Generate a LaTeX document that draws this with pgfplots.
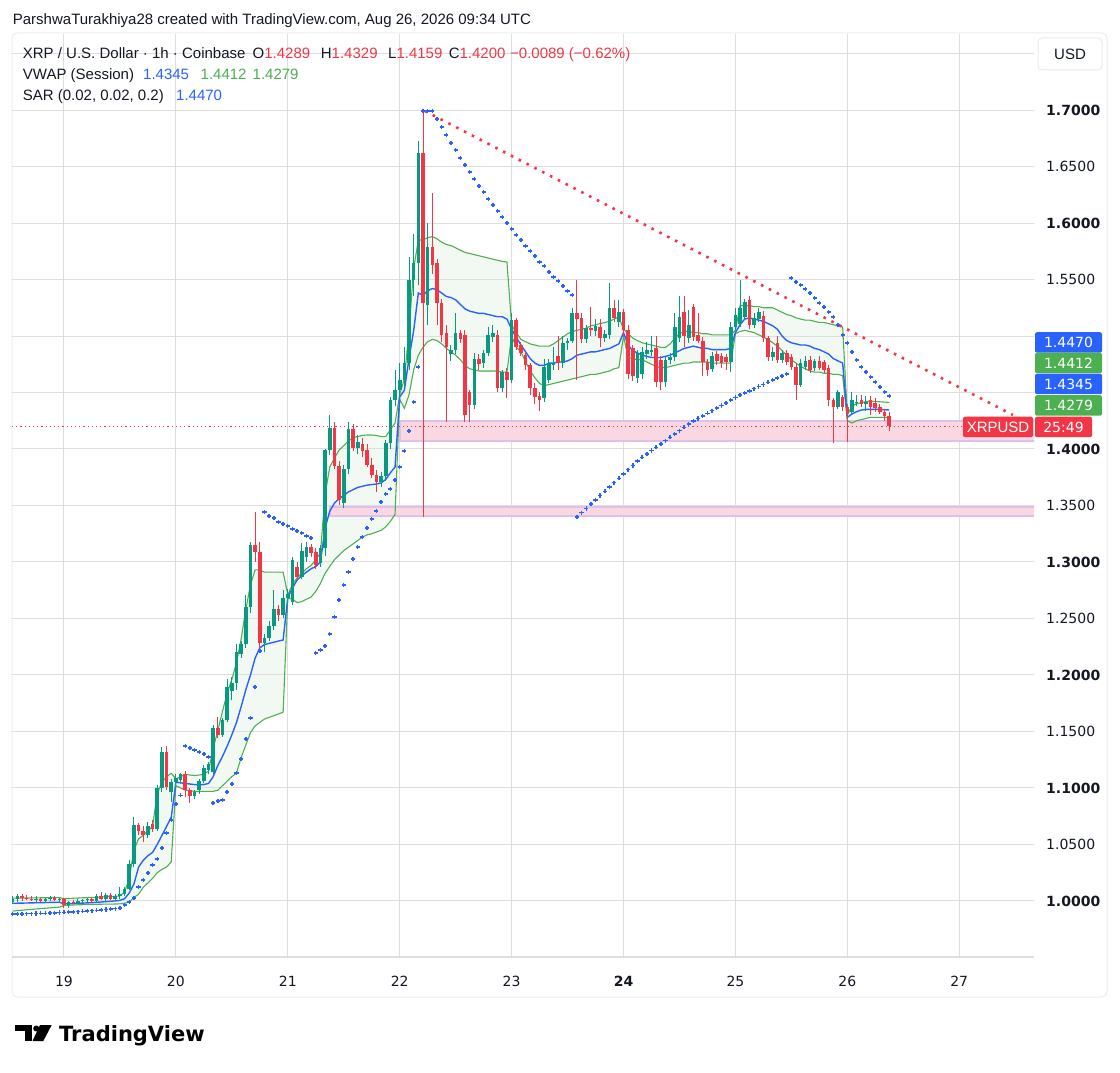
\documentclass[border=0pt]{standalone}
\usepackage{fontspec}
\setmainfont{Liberation Sans}
\newfontfamily\numfont{DejaVu Sans}
\usepackage{pgfplots}
\pgfplotsset{compat=1.18}
\usepackage{pgfplotstable}
\usepgfplotslibrary{fillbetween}
\definecolor{upc}{RGB}{8,153,129}
\definecolor{dnc}{RGB}{242,54,69}
\definecolor{tvblue}{RGB}{41,98,255}
\definecolor{bandg}{RGB}{76,175,80}
\definecolor{gridc}{RGB}{222,222,222}
\definecolor{txt}{RGB}{19,23,34}
\definecolor{zonefill}{RGB}{250,216,226}
\definecolor{zoneedge}{RGB}{222,192,234}

% rising candles (close >= open)
\pgfplotstableread{
t o hi lo c
-11 0.999 1.004 0.997 1.002
-10 1.002 1.006 0.999 1.004
-6 1.001 1.004 0.999 1.002
-4 1.000 1.003 0.998 1.002
-3 1.002 1.004 1.000 1.003
-1 1.001 1.003 0.999 1.002
1 0.996 1.000 0.994 0.999
3 0.998 1.002 0.997 1.000
4 1.000 1.002 0.998 1.001
5 1.001 1.003 0.999 1.002
7 1.000 1.006 0.999 1.004
9 1.002 1.007 1.000 1.005
11 1.002 1.006 1.001 1.004
12 1.004 1.012 1.002 1.006
13 1.006 1.012 1.004 1.011
14 1.011 1.036 1.010 1.033
15 1.033 1.074 1.030 1.067
18 1.058 1.070 1.056 1.066
20 1.064 1.103 1.062 1.100
21 1.100 1.136 1.096 1.132
23 1.096 1.108 1.088 1.105
24 1.105 1.112 1.100 1.109
25 1.107 1.113 1.104 1.112
28 1.093 1.098 1.090 1.096
29 1.098 1.108 1.095 1.106
30 1.106 1.120 1.104 1.118
31 1.116 1.123 1.112 1.121
32 1.114 1.156 1.112 1.153
34 1.147 1.162 1.145 1.160
35 1.160 1.196 1.158 1.189
36 1.186 1.198 1.178 1.193
37 1.193 1.227 1.187 1.220
38 1.219 1.230 1.215 1.227
39 1.227 1.271 1.224 1.260
40 1.260 1.318 1.255 1.315
43 1.228 1.236 1.220 1.233
44 1.233 1.248 1.230 1.243
45 1.243 1.275 1.240 1.258
47 1.253 1.275 1.250 1.268
48 1.268 1.276 1.262 1.272
49 1.265 1.304 1.262 1.302
51 1.287 1.317 1.285 1.310
52 1.304 1.318 1.300 1.313
55 1.299 1.315 1.296 1.312
56 1.312 1.400 1.305 1.399
57 1.399 1.430 1.395 1.419
60 1.352 1.386 1.348 1.382
61 1.382 1.424 1.378 1.418
63 1.401 1.412 1.396 1.406
68 1.371 1.380 1.366 1.376
69 1.376 1.408 1.372 1.405
70 1.405 1.446 1.400 1.443
71 1.443 1.470 1.438 1.452
72 1.452 1.476 1.445 1.461
73 1.461 1.490 1.455 1.476
74 1.476 1.570 1.470 1.550
75 1.550 1.590 1.535 1.565
76 1.565 1.673 1.545 1.662
78 1.527 1.600 1.510 1.579
83 1.484 1.492 1.478 1.488
84 1.488 1.520 1.484 1.503
88 1.439 1.485 1.435 1.480
90 1.476 1.488 1.472 1.485
91 1.485 1.508 1.482 1.501
92 1.499 1.510 1.495 1.503
94 1.454 1.470 1.450 1.468
96 1.461 1.520 1.458 1.514
103 1.445 1.480 1.442 1.473
104 1.461 1.480 1.458 1.476
105 1.474 1.490 1.470 1.476
107 1.476 1.500 1.472 1.494
108 1.494 1.498 1.488 1.496
109 1.496 1.525 1.494 1.520
112 1.497 1.510 1.494 1.507
114 1.504 1.515 1.500 1.509
116 1.498 1.505 1.495 1.502
117 1.501 1.547 1.497 1.525
119 1.512 1.532 1.508 1.521
123 1.463 1.488 1.458 1.485
124 1.466 1.490 1.462 1.486
125 1.484 1.495 1.480 1.488
126 1.486 1.500 1.482 1.488
129 1.459 1.482 1.455 1.479
130 1.479 1.485 1.475 1.481
131 1.481 1.520 1.478 1.508
132 1.498 1.535 1.495 1.517
134 1.498 1.523 1.494 1.510
139 1.471 1.486 1.468 1.482
143 1.477 1.512 1.468 1.508
144 1.508 1.525 1.505 1.519
145 1.511 1.550 1.508 1.525
146 1.517 1.533 1.514 1.530
148 1.510 1.520 1.507 1.516
149 1.515 1.525 1.512 1.521
152 1.481 1.490 1.478 1.486
154 1.479 1.488 1.476 1.485
158 1.457 1.480 1.455 1.476
159 1.473 1.482 1.470 1.478
161 1.472 1.480 1.469 1.478
166 1.437 1.452 1.435 1.450
169 1.433 1.450 1.431 1.443
170 1.441 1.448 1.438 1.442
172 1.440 1.447 1.434 1.442
}\upcandles

% falling candles (close < open)
\pgfplotstableread{
t o hi lo c
-9 1.004 1.006 1.000 1.003
-8 1.003 1.005 1.001 1.002
-7 1.002 1.004 1.000 1.001
-5 1.002 1.003 0.999 1.000
-2 1.003 1.004 1.000 1.001
0 1.002 1.003 0.994 0.996
2 0.999 1.001 0.997 0.998
6 1.002 1.003 0.999 1.000
8 1.004 1.008 1.001 1.002
10 1.005 1.007 1.001 1.002
16 1.067 1.069 1.058 1.062
17 1.062 1.066 1.052 1.058
19 1.068 1.072 1.061 1.064
22 1.132 1.137 1.098 1.101
26 1.112 1.115 1.092 1.098
27 1.098 1.100 1.087 1.093
33 1.153 1.163 1.144 1.147
41 1.315 1.344 1.300 1.309
42 1.309 1.318 1.222 1.228
46 1.258 1.262 1.248 1.253
50 1.296 1.300 1.284 1.287
53 1.313 1.316 1.304 1.308
54 1.309 1.312 1.294 1.297
58 1.419 1.424 1.382 1.385
59 1.385 1.389 1.350 1.355
62 1.418 1.422 1.398 1.401
64 1.404 1.410 1.393 1.398
65 1.399 1.404 1.384 1.386
66 1.386 1.392 1.374 1.377
67 1.377 1.381 1.362 1.371
77 1.662 1.700 1.340 1.529
79 1.579 1.627 1.555 1.563
80 1.565 1.568 1.510 1.529
81 1.529 1.533 1.495 1.501
82 1.503 1.510 1.424 1.490
85 1.503 1.505 1.494 1.497
86 1.501 1.505 1.424 1.430
87 1.450 1.452 1.424 1.439
89 1.480 1.484 1.470 1.475
93 1.501 1.505 1.450 1.454
95 1.468 1.472 1.445 1.461
97 1.514 1.516 1.488 1.490
98 1.492 1.495 1.482 1.485
99 1.483 1.486 1.470 1.474
100 1.474 1.476 1.448 1.454
101 1.454 1.458 1.440 1.446
102 1.447 1.450 1.434 1.443
106 1.482 1.500 1.470 1.476
110 1.520 1.550 1.461 1.515
111 1.516 1.520 1.494 1.497
113 1.507 1.526 1.500 1.505
115 1.508 1.515 1.490 1.498
118 1.525 1.532 1.512 1.516
120 1.521 1.524 1.500 1.505
121 1.505 1.510 1.462 1.466
122 1.489 1.492 1.460 1.465
127 1.489 1.500 1.455 1.459
128 1.479 1.482 1.452 1.459
133 1.521 1.535 1.490 1.500
135 1.526 1.528 1.496 1.499
136 1.501 1.520 1.494 1.496
137 1.496 1.499 1.465 1.477
138 1.477 1.480 1.465 1.470
140 1.484 1.487 1.474 1.478
141 1.482 1.485 1.472 1.476
142 1.481 1.484 1.470 1.477
147 1.532 1.535 1.506 1.510
150 1.518 1.522 1.495 1.498
151 1.498 1.500 1.478 1.481
153 1.494 1.500 1.476 1.479
155 1.485 1.488 1.474 1.477
156 1.481 1.484 1.470 1.473
157 1.473 1.476 1.443 1.457
160 1.479 1.482 1.467 1.470
162 1.478 1.482 1.470 1.472
163 1.477 1.479 1.467 1.470
164 1.472 1.474 1.438 1.443
165 1.443 1.445 1.405 1.437
167 1.446 1.448 1.434 1.437
168 1.437 1.440 1.406 1.432
171 1.443 1.448 1.437 1.440
173 1.443 1.447 1.430 1.437
174 1.441 1.445 1.433 1.436
175 1.437 1.440 1.431 1.433
176 1.433 1.435 1.425 1.429
177 1.4289 1.4329 1.4159 1.4200
}\dncandles

\pgfplotstableread{
t vw up lo
-11 0.9980 1.0025 0.9910
-10 0.9980 1.0025 0.9915
-9 0.9981 1.0026 0.9918
-8 0.9982 1.0026 0.9922
-7 0.9983 1.0027 0.9925
-6 0.9984 1.0027 0.9929
-5 0.9985 1.0028 0.9932
-4 0.9986 1.0028 0.9936
-3 0.9987 1.0029 0.9939
-2 0.9988 1.0029 0.9942
-1 0.9989 1.0030 0.9945
0 0.9975 1.0020 0.9960
1 0.9975 1.0022 0.9962
2 0.9977 1.0024 0.9964
3 0.9979 1.0026 0.9966
4 0.9981 1.0028 0.9967
5 0.9983 1.0030 0.9968
6 0.9985 1.0031 0.9969
7 0.9988 1.0033 0.9970
8 0.9991 1.0035 0.9971
9 0.9994 1.0037 0.9972
10 0.9997 1.0039 0.9972
11 1.0000 1.0041 0.9973
12 1.0005 1.0045 0.9974
13 1.0020 1.0080 0.9980
14 1.0070 1.0200 0.9990
15 1.0150 1.0450 1.0030
16 1.0300 1.0550 1.0060
17 1.0360 1.0580 1.0120
18 1.0400 1.0620 1.0160
19 1.0430 1.0660 1.0200
20 1.0500 1.0950 1.0250
21 1.0580 1.1050 1.0280
22 1.0660 1.1100 1.0300
23 1.0740 1.1130 1.0345
24 1.1050 1.1080 1.1020
25 1.1045 1.1100 1.1000
26 1.1040 1.1120 1.0980
27 1.1035 1.1115 1.0975
28 1.1030 1.1110 1.0970
29 1.1030 1.1115 1.0970
30 1.1030 1.1120 1.0970
31 1.1040 1.1150 1.0970
32 1.1100 1.1350 1.0970
33 1.1200 1.1510 1.0980
34 1.1280 1.1680 1.1020
35 1.1370 1.1840 1.1060
36 1.1470 1.1960 1.1100
37 1.1580 1.2110 1.1130
38 1.1720 1.2320 1.1270
39 1.1870 1.2580 1.1380
40 1.2000 1.2800 1.1490
41 1.2150 1.2930 1.1550
42 1.2240 1.2930 1.1580
43 1.2270 1.2910 1.1610
44 1.2280 1.2910 1.1625
45 1.2290 1.2910 1.1640
46 1.2300 1.2910 1.1655
47 1.2310 1.2910 1.1670
48 1.2685 1.2710 1.2680
49 1.2770 1.2800 1.2670
50 1.2840 1.2860 1.2640
51 1.2880 1.2900 1.2650
52 1.2910 1.2940 1.2670
53 1.2940 1.2970 1.2690
54 1.2960 1.3020 1.2740
55 1.3000 1.3080 1.2810
56 1.3300 1.3600 1.2900
57 1.3450 1.3840 1.2960
58 1.3520 1.3920 1.3020
59 1.3560 1.3990 1.3060
60 1.3590 1.4030 1.3100
61 1.3620 1.4070 1.3130
62 1.3640 1.4100 1.3160
63 1.3660 1.4110 1.3190
64 1.3670 1.4120 1.3220
65 1.3680 1.4124 1.3240
66 1.3685 1.4124 1.3250
67 1.3690 1.4120 1.3265
68 1.3700 1.4110 1.3280
69 1.3730 1.4110 1.3310
70 1.3790 1.4170 1.3360
71 1.3840 1.4230 1.3420
72 1.4460 1.4480 1.4440
73 1.4520 1.4620 1.4360
74 1.4800 1.5050 1.4480
75 1.5050 1.5600 1.4700
76 1.5380 1.5850 1.4830
77 1.5360 1.5850 1.4900
78 1.5400 1.5870 1.4950
79 1.5420 1.5880 1.4970
80 1.5410 1.5860 1.4960
81 1.5380 1.5830 1.4930
82 1.5350 1.5810 1.4890
83 1.5340 1.5800 1.4860
84 1.5320 1.5780 1.4830
85 1.5280 1.5760 1.4790
86 1.5240 1.5740 1.4740
87 1.5220 1.5730 1.4710
88 1.5210 1.5720 1.4700
89 1.5200 1.5710 1.4690
90 1.5200 1.5700 1.4690
91 1.5190 1.5690 1.4690
92 1.5180 1.5680 1.4690
93 1.5170 1.5670 1.4690
94 1.5170 1.5660 1.4680
95 1.5150 1.5655 1.4680
96 1.5060 1.5100 1.5000
97 1.4990 1.5030 1.4900
98 1.4920 1.4970 1.4860
99 1.4860 1.4950 1.4770
100 1.4800 1.4930 1.4690
101 1.4760 1.4920 1.4630
102 1.4740 1.4910 1.4580
103 1.4740 1.4910 1.4560
104 1.4760 1.4910 1.4570
105 1.4760 1.4930 1.4580
106 1.4770 1.4960 1.4590
107 1.4770 1.4990 1.4600
108 1.4780 1.5020 1.4610
109 1.4800 1.5040 1.4620
110 1.4830 1.5050 1.4630
111 1.4840 1.5060 1.4640
112 1.4850 1.5070 1.4650
113 1.4860 1.5090 1.4660
114 1.4860 1.5100 1.4660
115 1.4870 1.5110 1.4670
116 1.4880 1.5120 1.4680
117 1.4890 1.5130 1.4690
118 1.4910 1.5150 1.4710
119 1.4930 1.5170 1.4720
120 1.5030 1.5060 1.5000
121 1.4920 1.5020 1.4810
122 1.4870 1.4980 1.4800
123 1.4850 1.4960 1.4790
124 1.4830 1.4940 1.4790
125 1.4820 1.4930 1.4770
126 1.4810 1.4920 1.4750
127 1.4810 1.4910 1.4730
128 1.4810 1.4900 1.4720
129 1.4820 1.4900 1.4720
130 1.4830 1.4930 1.4730
131 1.4850 1.4980 1.4740
132 1.4870 1.5020 1.4750
133 1.4890 1.5040 1.4760
134 1.4900 1.5040 1.4760
135 1.4910 1.5030 1.4770
136 1.4900 1.5030 1.4770
137 1.4890 1.5020 1.4770
138 1.4890 1.5020 1.4770
139 1.4880 1.5010 1.4760
140 1.4880 1.5010 1.4760
141 1.4880 1.5010 1.4760
142 1.4880 1.5010 1.4760
143 1.4890 1.5010 1.4760
144 1.5030 1.5050 1.5020
145 1.5100 1.5270 1.5040
146 1.5150 1.5270 1.5050
147 1.5160 1.5270 1.5040
148 1.5150 1.5260 1.5030
149 1.5140 1.5260 1.5010
150 1.5130 1.5250 1.4990
151 1.5110 1.5250 1.4970
152 1.5090 1.5250 1.4940
153 1.5060 1.5230 1.4910
154 1.5000 1.5210 1.4870
155 1.4960 1.5190 1.4830
156 1.4940 1.5180 1.4790
157 1.4930 1.5160 1.4760
158 1.4920 1.5150 1.4730
159 1.4920 1.5140 1.4710
160 1.4910 1.5140 1.4690
161 1.4890 1.5130 1.4680
162 1.4880 1.5120 1.4680
163 1.4860 1.5120 1.4670
164 1.4840 1.5110 1.4670
165 1.4800 1.5100 1.4660
166 1.4780 1.5090 1.4660
167 1.4760 1.5080 1.4650
168 1.4280 1.4300 1.4250
169 1.4310 1.4380 1.4230
170 1.4330 1.4400 1.4250
171 1.4345 1.4410 1.4260
172 1.4350 1.4420 1.4270
173 1.4350 1.4425 1.4280
174 1.4350 1.4420 1.4280
175 1.4350 1.4418 1.4280
176 1.4348 1.4415 1.4280
177 1.4345 1.4412 1.4279
}\vwap

\pgfplotstableread{
t v
-11 0.9884
-10 0.9885
-9 0.9886
-8 0.9887
-7 0.9888
-6 0.9889
-5 0.9890
-4 0.9891
-3 0.9893
-2 0.9895
-1 0.9897
0 0.9899
1 0.9901
2 0.9903
3 0.9905
4 0.9908
5 0.9911
6 0.9914
7 0.9917
8 0.9920
9 0.9924
10 0.9928
11 0.9932
12 0.9937
13 0.9965
14 0.9990
15 1.0027
16 1.0124
17 1.0186
18 1.0248
19 1.0319
20 1.0372
21 1.0469
22 1.0602
23 1.0717
24 1.0858
25 1.0935
26 1.1372
27 1.1354
28 1.1336
29 1.1319
30 1.1301
31 1.1274
32 1.0867
33 1.0885
34 1.0894
35 1.0965
36 1.1035
37 1.1133
38 1.1257
39 1.1434
40 1.1619
41 1.1894
42 1.2212
43 1.3442
44 1.3407
45 1.3389
46 1.3354
47 1.3336
48 1.3319
49 1.3292
50 1.3274
51 1.3257
52 1.3230
53 1.3212
54 1.2195
55 1.2221
56 1.2257
57 1.2363
58 1.2513
59 1.2664
60 1.2796
61 1.2912
62 1.3027
63 1.3133
64 1.3221
65 1.3301
66 1.3381
67 1.3451
68 1.3531
69 1.3602
70 1.3646
71 1.3726
72 1.3841
73 1.3982
74 1.4159
75 1.4416
76 1.4726
77 1.6991
78 1.6991
79 1.6991
80 1.6920
81 1.6850
82 1.6779
83 1.6708
84 1.6646
85 1.6575
86 1.6513
87 1.6451
88 1.6389
89 1.6327
90 1.6274
91 1.6212
92 1.6159
93 1.6106
94 1.6053
95 1.6000
96 1.5947
97 1.5894
98 1.5850
99 1.5796
100 1.5752
101 1.5708
102 1.5655
103 1.5619
104 1.5566
105 1.5522
106 1.5487
107 1.5442
108 1.5398
109 1.5363
110 1.3398
111 1.3436
112 1.3474
113 1.3512
114 1.3550
115 1.3588
116 1.3626
117 1.3664
118 1.3702
119 1.3740
120 1.3778
121 1.3816
122 1.3854
123 1.3892
124 1.3927
125 1.3956
126 1.3986
127 1.4015
128 1.4045
129 1.4074
130 1.4103
131 1.4133
132 1.4162
133 1.4192
134 1.4221
135 1.4246
136 1.4269
137 1.4292
138 1.4316
139 1.4339
140 1.4362
141 1.4385
142 1.4408
143 1.4432
144 1.4455
145 1.4478
146 1.4497
147 1.4515
148 1.4534
149 1.4553
150 1.4571
151 1.4590
152 1.4609
153 1.4627
154 1.4646
155 1.4664
156 1.5513
157 1.5478
158 1.5451
159 1.5416
160 1.5381
161 1.5336
162 1.5292
163 1.5257
164 1.5212
165 1.5168
166 1.5097
167 1.5009
168 1.4938
169 1.4858
170 1.4788
171 1.4726
172 1.4681
173 1.4637
174 1.4593
175 1.4549
176 1.4504
177 1.4470
}\sar

\begin{document}
\begin{tikzpicture}
\draw[color=black!7, line width=1pt, rounded corners=5pt] (12pt,75pt) rectangle (1107pt,1039pt);
\begin{axis}[
  at={(12pt,115pt)}, anchor=south west,
  scale only axis, width=1022pt, height=922pt,
  xmin=-11.15, xmax=208.04, ymin=0.9504, ymax=1.7664,
  axis line style={draw=none}, major tick length=0pt, minor tick length=0pt,
  xtick={0,24,48,72,96,120,144,168,192},
  xticklabels={19,20,21,22,23,\textbf{24},25,26,27},
  ytick={1.00,1.05,1.10,1.15,1.20,1.25,1.30,1.35,1.40,1.45,1.50,1.55,1.60,1.65,1.70,1.75},
  yticklabels={\textbf{1.0000},1.0500,\textbf{1.1000},1.1500,\textbf{1.2000},1.2500,\textbf{1.3000},1.3500,\textbf{1.4000},{},{},1.5500,\textbf{1.6000},1.6500,\textbf{1.7000},{}},
  yticklabel pos=right,
  ticklabel style={font=\numfont\fontsize{14}{16}\selectfont, text=txt, inner sep=0pt},
  yticklabel style={anchor=west, xshift=12pt},
  xticklabel style={anchor=base, yshift=-29.7pt},
]
% grid
\foreach \gx in {0,24,48,72,96,120,144,168,192} {
  \edef\temp{\noexpand\draw[gridc, line width=1pt] (axis cs:\gx,0.9) -- (axis cs:\gx,1.8);}\temp
}
\foreach \gy in {1.00,1.05,1.10,1.15,1.20,1.25,1.30,1.35,1.40,1.45,1.50,1.55,1.60,1.65,1.70,1.75} {
  \edef\temp{\noexpand\draw[gridc, line width=1pt] (axis cs:-20,\gy) -- (axis cs:215,\gy);}\temp
}
% zones
\filldraw[fill=zonefill, draw=zoneedge, line width=2pt] (axis cs:72.06,1.4071) rectangle (axis cs:215,1.4248);
\filldraw[fill=zonefill, draw=zoneedge, line width=2pt] (axis cs:57.05,1.3407) rectangle (axis cs:215,1.3487);
% vwap bands
\addplot[name path=U, bandg, line width=1.1pt, forget plot] table[x=t,y=up] {\vwap};
\addplot[name path=L, bandg, line width=1.1pt, forget plot] table[x=t,y=lo] {\vwap};
\addplot[fill=bandg, fill opacity=0.07, draw=none, forget plot] fill between[of=U and L];
\addplot[tvblue, line width=1.4pt, forget plot] table[x=t,y=vw] {\vwap};
% candles: up
\addplot[forget plot, draw=none, mark=none,
  error bars/.cd, y dir=plus, y explicit, error mark=none, error bar style={draw=upc, line width=1pt}]
  table[x=t, y=lo, y error plus expr={\thisrow{hi}-\thisrow{lo}}] {\upcandles};
\addplot[forget plot, draw=none, mark=none,
  error bars/.cd, y dir=plus, y explicit, error mark=none, error bar style={draw=upc, line width=3.6pt}]
  table[x=t, y=o, y error plus expr={max(\thisrow{c}-\thisrow{o},0.0009)}] {\upcandles};
% candles: down
\addplot[forget plot, draw=none, mark=none,
  error bars/.cd, y dir=plus, y explicit, error mark=none, error bar style={draw=dnc, line width=1pt}]
  table[x=t, y=lo, y error plus expr={\thisrow{hi}-\thisrow{lo}}] {\dncandles};
\addplot[forget plot, draw=none, mark=none,
  error bars/.cd, y dir=plus, y explicit, error mark=none, error bar style={draw=dnc, line width=3.6pt}]
  table[x=t, y=c, y error plus expr={max(\thisrow{o}-\thisrow{c},0.0009)}] {\dncandles};
% SAR
\addplot[only marks, mark=+, mark size=2.1pt, tvblue, mark options={line width=1.4pt}, forget plot] table[x=t,y=v] {\sar};
% trend line
\addplot[dnc, line width=2.6pt, dash pattern=on 2.6pt off 6.2pt, forget plot] coordinates {(77.4,1.6991) (203.5,1.4301)};
% price line
\addplot[dnc, line width=1pt, dash pattern=on 1.2pt off 3pt, forget plot] coordinates {(-11.15,1.4200) (192.8,1.4200)};
\end{axis}
% time axis line
\draw[gridc, line width=2pt] (12pt,115pt) -- (1034pt,115pt);
% header
\node[anchor=base west, inner sep=0pt, text=txt, font=\fontsize{15}{18}\selectfont] at (12.7pt,1047pt) {ParshwaTurakhiya28 created with TradingView.com, Aug 26, 2026 09:34 UTC};
\begin{scope}[every node/.style={anchor=base west, inner sep=0pt, text=txt, font=\fontsize{15}{18}\selectfont}]
\node at (22.7pt,1013.7pt) {XRP / U.S. Dollar · 1h · Coinbase};
\node at (252.5pt,1013.7pt) {O\textcolor{dnc}{1.4289}};
\node at (320.7pt,1013.7pt) {H\textcolor{dnc}{1.4329}};
\node at (388pt,1013.7pt) {L\textcolor{dnc}{1.4159}};
\node at (448.6pt,1013.7pt) {C\textcolor{dnc}{1.4200}};
\node at (510pt,1013.7pt) {\textcolor{dnc}{−0.0089 (−0.62\%)}};
\node at (22.7pt,992.5pt) {VWAP (Session)};
\node at (143pt,992.5pt) {\textcolor{tvblue}{1.4345}};
\node at (200.5pt,992.5pt) {\textcolor{bandg}{1.4412}};
\node at (252.5pt,992.5pt) {\textcolor{bandg}{1.4279}};
\node at (22.7pt,971.3pt) {SAR (0.02, 0.02, 0.2)};
\node at (176pt,971.3pt) {\textcolor{tvblue}{1.4470}};
\end{scope}
% USD box
\node[draw=black!8, fill=white, line width=1pt, rounded corners=4pt, minimum width=64pt, minimum height=32pt, inner sep=0pt, text=txt, font=\fontsize{15}{18}\selectfont] at (1070pt,1018pt) {USD};
% price tags
\begin{scope}[every node/.style={rounded corners=2pt, minimum width=67pt, minimum height=20.5pt, inner sep=0pt, text=white, font=\numfont\fontsize{14}{16}\selectfont}]
\node[fill=tvblue] at (1068.5pt,729.5pt) {1.4470};
\node[fill=bandg] at (1068.5pt,709pt) {1.4412};
\node[fill=tvblue] at (1068.5pt,688pt) {1.4345};
\node[fill=bandg] at (1068.5pt,666.5pt) {1.4279};
\node[fill=dnc, minimum width=57pt] at (1063.5pt,645pt) {25:49};
\node[fill=dnc, minimum width=70pt, font=\fontsize{15}{18}\selectfont] at (998pt,645pt) {XRPUSD};
\end{scope}
% logo
\fill[black] (15pt,41pt) rectangle (31.7pt,47pt);
\fill[black] (25pt,31pt) rectangle (31.7pt,47pt);
\fill[black] (36.2pt,43.5pt) circle (3pt);
\fill[black] (40pt,47pt) -- (51.7pt,47pt) -- (43.3pt,31pt) -- (32.5pt,31pt) -- cycle;
\node[anchor=base west, inner sep=0pt, font=\numfont\bfseries\fontsize{21}{24}\selectfont] at (59pt,31pt) {TradingView};
\pgfresetboundingbox
\path (0pt,0pt) rectangle (1120pt,1072pt);
\end{tikzpicture}
\end{document}
